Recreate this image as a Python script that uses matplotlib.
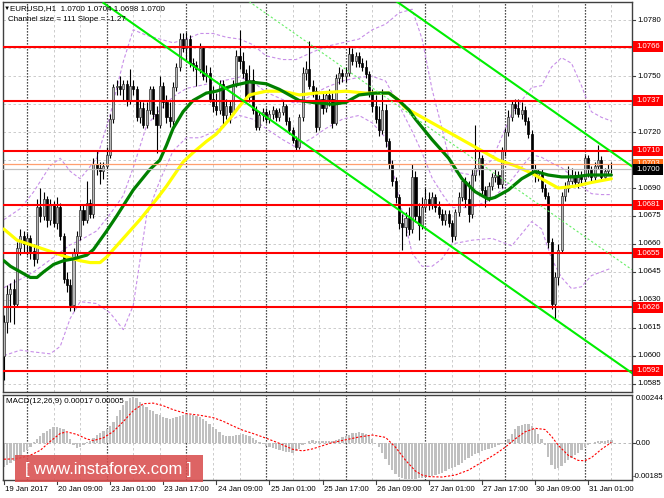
import matplotlib
matplotlib.use("Agg")
import matplotlib.pyplot as plt
from matplotlib.patches import Rectangle
import numpy as np

plt.rcParams['font.family'] = ['Liberation Sans', 'DejaVu Sans']

W, H = 664, 498

# ---------------- data (EURUSD H1, bars indexed from 19 Jan 17:00) ----------------
opens = [1.0600,1.0618,1.0633,1.0636,1.0628,1.0658,1.0664,1.0660,1.0663,1.0656,
         1.0652,1.0680,1.0675,1.0684,1.0673,1.0681,1.0671,1.0680,1.0664,1.0641,
         1.0638,1.0627,1.0655,1.0664,1.0678,1.0673,1.0682,1.0676,1.0703,1.0701,
         1.0699,1.0702,1.0708,1.0727,1.0744,1.0745,1.0743,1.0746,1.0737,1.0745,
         1.0743,1.0728,1.0733,1.0724,1.0732,1.0743,1.0730,1.0724,1.0745,1.0736,
         1.0728,1.0726,1.0744,1.0755,1.0770,1.0765,1.0770,1.0757,1.0756,1.0754,
         1.0765,1.0750,1.0752,1.0738,1.0734,1.0732,1.0746,1.0729,1.0734,1.0731,
         1.0746,1.0761,1.0758,1.0752,1.0739,1.0748,1.0732,1.0723,1.0729,1.0731,
         1.0727,1.0730,1.0732,1.0728,1.0731,1.0734,1.0726,1.0721,1.0716,1.0712,
         1.0728,1.0752,1.0754,1.0745,1.0742,1.0723,1.0738,1.0733,1.0740,1.0738,
         1.0725,1.0749,1.0752,1.0750,1.0752,1.0762,1.0758,1.0761,1.0757,1.0755,
         1.0751,1.0741,1.0734,1.0727,1.0721,1.0732,1.0715,1.0703,1.0694,1.0685,
         1.0671,1.0669,1.0674,1.0668,1.0696,1.0675,1.0670,1.0680,1.0684,1.0681,
         1.0685,1.0680,1.0676,1.0673,1.0676,1.0671,1.0664,1.0677,1.0685,1.0694,
         1.0684,1.0676,1.0697,1.0701,1.0706,1.0689,1.0685,1.0691,1.0696,1.0697,
         1.0692,1.0710,1.0720,1.0728,1.0735,1.0733,1.0730,1.0732,1.0726,1.0719,
         1.0700,1.0697,1.0698,1.0690,1.0686,1.0661,1.0628,1.0642,1.0657,1.0686,
         1.0690,1.0694,1.0697,1.0693,1.0697,1.0695,1.0706,1.0700,1.0696,1.0702,
         1.0705,1.0696,1.0699,1.0700]
highs = [1.0622,1.0638,1.0639,1.0641,1.0661,1.0668,1.0667,1.0666,1.0665,1.0660,
         1.0684,1.0690,1.0688,1.0686,1.0684,1.0683,1.0685,1.0682,1.0666,1.0645,
         1.0641,1.0658,1.0667,1.0681,1.0681,1.0694,1.0684,1.0706,1.0710,1.0704,
         1.0704,1.0712,1.0730,1.0746,1.0748,1.0750,1.0748,1.0748,1.0754,1.0748,
         1.0745,1.0737,1.0736,1.0736,1.0745,1.0745,1.0734,1.0750,1.0747,1.0740,
         1.0736,1.0747,1.0757,1.0773,1.0773,1.0774,1.0772,1.0760,1.0758,1.0768,
         1.0766,1.0756,1.0755,1.0745,1.0741,1.0748,1.0748,1.0738,1.0737,1.0748,
         1.0764,1.0775,1.0763,1.0754,1.0756,1.0754,1.0734,1.0731,1.0733,1.0733,
         1.0732,1.0734,1.0733,1.0733,1.0737,1.0735,1.0728,1.0723,1.0718,1.0730,
         1.0755,1.0758,1.0769,1.0748,1.0744,1.0740,1.0742,1.0742,1.0743,1.0741,
         1.0751,1.0755,1.0754,1.0755,1.0766,1.0765,1.0763,1.0763,1.0760,1.0759,
         1.0753,1.0743,1.0740,1.0734,1.0743,1.0735,1.0717,1.0705,1.0696,1.0687,
         1.0676,1.0677,1.0680,1.0703,1.0699,1.0682,1.0685,1.0690,1.0688,1.0688,
         1.0687,1.0683,1.0679,1.0678,1.0678,1.0673,1.0679,1.0688,1.0696,1.0696,
         1.0694,1.0700,1.0724,1.0710,1.0708,1.0691,1.0693,1.0698,1.0700,1.0699,
         1.0712,1.0722,1.0732,1.0737,1.0738,1.0738,1.0736,1.0734,1.0728,1.0721,
         1.0703,1.0700,1.0700,1.0692,1.0688,1.0663,1.0645,1.0660,1.0688,1.0693,
         1.0702,1.0701,1.0699,1.0699,1.0699,1.0708,1.0708,1.0702,1.0704,1.0713,
         1.0707,1.0701,1.0703,1.0704]
lows = [1.0587,1.0612,1.0618,1.0617,1.0626,1.0654,1.0655,1.0654,1.0652,1.0648,
        1.0650,1.0672,1.0673,1.0669,1.0670,1.0669,1.0668,1.0662,1.0639,1.0634,
        1.0624,1.0624,1.0652,1.0662,1.0670,1.0671,1.0674,1.0674,1.0697,1.0692,
        1.0695,1.0700,1.0706,1.0725,1.0740,1.0740,1.0737,1.0734,1.0735,1.0740,
        1.0726,1.0725,1.0722,1.0722,1.0730,1.0727,1.0709,1.0722,1.0733,1.0725,
        1.0723,1.0724,1.0742,1.0753,1.0763,1.0758,1.0755,1.0753,1.0745,1.0752,
        1.0748,1.0747,1.0736,1.0731,1.0729,1.0730,1.0723,1.0727,1.0725,1.0729,
        1.0744,1.0754,1.0749,1.0737,1.0736,1.0730,1.0721,1.0721,1.0726,1.0725,
        1.0725,1.0727,1.0726,1.0726,1.0729,1.0724,1.0719,1.0714,1.0710,1.0711,
        1.0726,1.0748,1.0743,1.0739,1.0720,1.0721,1.0730,1.0731,1.0734,1.0722,
        1.0724,1.0746,1.0747,1.0747,1.0750,1.0756,1.0755,1.0755,1.0753,1.0749,
        1.0739,1.0731,1.0725,1.0718,1.0719,1.0712,1.0700,1.0691,1.0682,1.0668,
        1.0657,1.0664,1.0665,1.0666,1.0672,1.0662,1.0668,1.0677,1.0678,1.0679,
        1.0677,1.0674,1.0670,1.0670,1.0669,1.0661,1.0662,1.0675,1.0683,1.0680,
        1.0672,1.0674,1.0694,1.0697,1.0687,1.0680,1.0683,1.0689,1.0693,1.0690,
        1.0690,1.0707,1.0718,1.0726,1.0730,1.0728,1.0727,1.0724,1.0717,1.0698,
        1.0693,1.0694,1.0688,1.0684,1.0658,1.0625,1.0619,1.0638,1.0655,1.0683,
        1.0688,1.0692,1.0691,1.0690,1.0692,1.0693,1.0696,1.0694,1.0694,1.0700,
        1.0694,1.0695,1.0697,1.0698]
closes = [1.0618,1.0633,1.0636,1.0628,1.0658,1.0664,1.0660,1.0663,1.0656,1.0652,
          1.0680,1.0675,1.0684,1.0673,1.0681,1.0671,1.0680,1.0664,1.0641,1.0638,
          1.0627,1.0655,1.0664,1.0678,1.0673,1.0682,1.0676,1.0703,1.0701,1.0699,
          1.0702,1.0708,1.0727,1.0744,1.0745,1.0743,1.0746,1.0737,1.0745,1.0743,
          1.0728,1.0733,1.0724,1.0732,1.0743,1.0730,1.0724,1.0745,1.0736,1.0728,
          1.0726,1.0744,1.0755,1.0770,1.0765,1.0770,1.0757,1.0756,1.0754,1.0765,
          1.0750,1.0752,1.0738,1.0734,1.0732,1.0746,1.0729,1.0734,1.0731,1.0746,
          1.0761,1.0758,1.0752,1.0739,1.0748,1.0732,1.0723,1.0729,1.0731,1.0727,
          1.0730,1.0732,1.0728,1.0731,1.0734,1.0726,1.0721,1.0716,1.0712,1.0728,
          1.0752,1.0754,1.0745,1.0742,1.0723,1.0738,1.0733,1.0740,1.0738,1.0725,
          1.0749,1.0752,1.0750,1.0752,1.0762,1.0758,1.0761,1.0757,1.0755,1.0751,
          1.0741,1.0734,1.0727,1.0721,1.0732,1.0715,1.0703,1.0694,1.0685,1.0671,
          1.0669,1.0674,1.0668,1.0696,1.0675,1.0670,1.0680,1.0684,1.0681,1.0685,
          1.0680,1.0676,1.0673,1.0676,1.0671,1.0664,1.0677,1.0685,1.0694,1.0684,
          1.0676,1.0697,1.0701,1.0706,1.0689,1.0685,1.0691,1.0696,1.0697,1.0692,
          1.0710,1.0720,1.0728,1.0735,1.0733,1.0730,1.0732,1.0726,1.0719,1.0700,
          1.0697,1.0698,1.0690,1.0686,1.0661,1.0628,1.0642,1.0657,1.0686,1.0690,
          1.0694,1.0697,1.0693,1.0697,1.0695,1.0706,1.0700,1.0696,1.0702,1.0705,
          1.0696,1.0699,1.0700,1.0700]

green_idx = [0,2,5,8,10,12,15,18,21,23,25,27,29,31,34,39,44,47,49,51,54,57,61,64,69,74,79,83,86,89,
             93,99,103,107,112,116,119,122,124,129,134,138,142,146,148,152,156,160,164,168,172,176,180,183]
green_val = [1.0651,1.0648,1.0645,1.0642,1.0642,1.0645,1.0649,1.0651,1.0652,1.0653,1.0654,1.0657,1.0662,1.0667,
             1.0675,1.0689,1.0700,1.0705,1.0713,1.0722,1.0731,1.0737,1.0741,1.0742,1.0745,1.0747,1.0746,1.0743,
             1.0740,1.0737,1.0736,1.0735,1.0736,1.0740,1.0741,1.0741,1.0737,1.0732,1.0727,1.0716,1.0706,1.0695,
             1.0688,1.0684,1.0685,1.0689,1.0695,1.0699,1.0697,1.0696,1.0696,1.0697,1.0697,1.0697]
yellow_idx = [0,4,9,14,19,23,26,29,31,35,41,46,49,54,57,61,64,68,71,74,79,84,89,94,103,109,116,119,121,125,
              131,137,143,149,154,159,164,167,172,177,183]
yellow_val = [1.0668,1.0662,1.0659,1.0656,1.0653,1.0651,1.0650,1.0650,1.0653,1.0661,1.0673,1.0684,1.0691,1.0704,
              1.0709,1.0715,1.0719,1.0727,1.0734,1.0740,1.0742,1.0742,1.0740,1.0741,1.0742,1.0741,1.0741,1.0737,
              1.0733,1.0729,1.0723,1.0717,1.0711,1.0705,1.0702,1.0698,1.0693,1.0690,1.0691,1.0693,1.0695]

bb_idx = [0,5,9,14,17,20,23,28,32,36,39,43,47,51,55,59,63,67,71,75,79,84,88,93,97,102,107,111,115,119,
          123,126,129,132,135,141,147,153,159,162,165,168,171,174,177,180,183]
bb_upper = [1.0673,1.0679,1.0688,1.0702,1.0706,1.0699,1.0695,1.0706,1.0729,1.0758,1.0775,1.0772,1.0770,1.0768,
            1.0770,1.0773,1.0773,1.0771,1.0770,1.0767,1.0761,1.0759,1.0759,1.0763,1.0766,1.0768,1.0770,1.0775,
            1.0778,1.0784,1.0786,1.0770,1.0743,1.0722,1.0699,1.0697,1.0705,1.0730,1.0744,1.0745,1.0755,1.0760,
            1.0757,1.0745,1.0731,1.0728,1.0726]
bb_lower = [1.0600,1.0603,1.0602,1.0601,1.0605,1.0620,1.0629,1.0628,1.0623,1.0614,1.0627,1.0675,1.0694,1.0710,
            1.0717,1.0717,1.0720,1.0725,1.0729,1.0727,1.0722,1.0716,1.0712,1.0717,1.0722,1.0727,1.0729,1.0725,
            1.0717,1.0685,1.0655,1.0648,1.0648,1.0652,1.0660,1.0662,1.0663,1.0659,1.0672,1.0668,1.0652,1.0642,
            1.0636,1.0637,1.0643,1.0645,1.0647]
bb_mid = [1.06365,1.0641,1.0645,1.06515,1.06555,1.06595,1.0662,1.0667,1.0676,1.0686,1.0701,1.07235,1.0732,1.0739,
          1.07435,1.0745,1.07465,1.0748,1.07495,1.0747,1.07415,1.07375,1.07355,1.0740,1.0744,1.07475,1.07495,1.0750,
          1.07475,1.07345,1.07205,1.0709,1.06955,1.0687,1.06795,1.06795,1.0684,1.06945,1.0708,1.07065,1.07035,1.0701,
          1.06965,1.0691,1.0687,1.06865,1.06865]

levels = [1.0766, 1.0737, 1.0710, 1.0681, 1.0655, 1.0626, 1.0592]
level_labels = ["1.0766", "1.0737", "1.0710", "1.0681", "1.0655", "1.0626", "1.0592"]
ask_price, ask_label = 1.0703, "1.0703"
bid_price, bid_label = 1.0700, "1.0700"

# tick positions; labels hidden in the reference under the level boxes are left empty
price_ticks = [1.0585, 1.0600, 1.0615, 1.0630, 1.0645, 1.0660, 1.0675, 1.0690,
               1.0705, 1.0720, 1.0735, 1.0750, 1.0765, 1.0780]
price_tick_labels = ["1.0585", "1.0600", "1.0615", "1.0630", "1.0645", "1.0660", "1.0675", "1.0690",
                     "", "1.0720", "1.0735", "1.0750", "", "1.0780"]

time_idx = [0, 16, 32, 48, 64, 80, 96, 112, 128, 144, 160, 176]
time_labels = ["19 Jan 2017", "20 Jan 09:00", "23 Jan 01:00", "23 Jan 17:00", "24 Jan 09:00",
               "25 Jan 01:00", "25 Jan 17:00", "26 Jan 09:00", "27 Jan 01:00", "27 Jan 17:00",
               "30 Jan 09:00", "31 Jan 01:00"]
day_sep_idx = [7, 31, 55, 79, 103, 127, 151, 175]

chan_idx = [30.0, 189.2]
chan_lower = [1.07894, 1.05907]
channel_size = 0.0111

# MACD histogram, in units of 1e-5
macd_hist = [-120,-110,-100,-90,-76,-62,-46,-32,-18,6,22,38,52,62,72,80,80,76,70,52,
             20,-10,-22,-20,-8,6,14,26,40,50,60,72,88,110,140,170,195,215,228,232,
             228,210,194,182,170,162,150,142,135,128,125,128,132,140,145,146,145,143,140,132,
             125,115,100,85,70,55,40,35,35,36,40,44,45,42,36,28,18,8,-4,-12,
             -20,-26,-30,-34,-38,-42,-46,-50,-40,-28,-10,4,14,18,14,12,10,12,10,12,
             18,24,30,36,44,50,54,55,53,46,36,20,2,-20,-50,-80,-110,-135,-155,-168,
             -176,-180,-182,-180,-178,-176,-175,-172,-168,-165,-160,-155,-148,-140,-132,-125,-118,-110,-98,-86,
             -76,-66,-56,-48,-40,-34,-28,-22,-16,-10,-4,4,24,48,70,86,94,98,96,88,
             70,48,22,-10,-70,-110,-128,-126,-115,-100,-86,-72,-60,-48,-34,-20,-6,4,8,10,
             12,14,16,17]
signal_idx = [0,4,8,11,14,17,19,22,25,27,30,33,36,39,42,45,48,51,55,59,63,66,69,72,75,79,83,87,90,93,
              96,99,103,107,111,115,118,121,124,126,128,132,136,140,144,148,151,154,157,160,163,165,167,170,
              173,175,177,180,183]
signal_val = [-80,-78,-60,-35,10,50,58,45,22,14,28,60,110,165,200,203,190,170,150,142,130,112,88,66,50,26,0,
              -30,-38,-28,-12,4,18,32,42,30,-20,-85,-140,-160,-168,-170,-160,-135,-95,-55,-20,22,58,76,70,35,
              -10,-60,-86,-88,-72,-30,5]

# ---------------- figure ----------------
fig = plt.figure(figsize=(W / 100, H / 100), dpi=100)
fig.patch.set_facecolor('white')


def frect(x0, y0, x1, y1):
    return [x0 / W, 1 - y1 / H, (x1 - x0) / W, (y1 - y0) / H]


ax = fig.add_axes(frect(3, 2, 632, 392))
mx = fig.add_axes(frect(3, 395, 632, 480))
XL = (-0.24, 189.22)
for a in (ax, mx):
    a.set_xlim(*XL)
    a.set_facecolor('white')
    for s in a.spines.values():
        s.set_color('#404040')
        s.set_linewidth(1.0)
ax.set_ylim(1.05805, 1.07899)
mx.set_ylim(-0.00185, 0.00244)

# grid and period separators
grid_idx = list(range(7, 190, 8))
for a in (ax, mx):
    for g in grid_idx:
        if g not in day_sep_idx:
            a.axvline(g, color='#c4c4c4', lw=0.6, ls=(0, (3, 3)), zorder=0.5)
    for d in day_sep_idx:
        a.axvline(d, color='#111111', lw=0.9, ls=(0, (1, 1.4)), zorder=0.6)
for p in price_ticks:
    ax.axhline(p, color='#c4c4c4', lw=0.6, ls=(0, (3, 3)), zorder=0.5)
mx.axhline(0, color='#b0b0b0', lw=0.6, ls=(0, (3, 3)), zorder=0.5)

# Bollinger bands
for arr in (bb_upper, bb_mid, bb_lower):
    ax.plot(bb_idx, arr, color='#c78ee8', lw=0.8, ls=(0, (3, 2)), zorder=2)

# candles
idx = np.arange(len(closes))
o = np.array(opens); hi = np.array(highs); lo = np.array(lows); c = np.array(closes)
ax.vlines(idx, lo, hi, color='#000000', lw=0.8, zorder=3)
bull = c >= o
bot = np.minimum(o, c)
hgt = np.maximum(np.abs(c - o), 0.00003)
ax.bar(idx[bull], hgt[bull], bottom=bot[bull], width=0.62, color='#b8b8b8',
       edgecolor='#333333', linewidth=0.5, zorder=3.2)
ax.bar(idx[~bull], hgt[~bull], bottom=bot[~bull], width=0.62, color='#000000',
       edgecolor='#000000', linewidth=0.5, zorder=3.2)

# moving averages
ax.plot(yellow_idx, yellow_val, color='#ffff00', lw=2.3, zorder=4, solid_capstyle='round')
ax.plot(green_idx, green_val, color='#008000', lw=2.3, zorder=4.1, solid_capstyle='round')

# horizontal levels
for lv in levels:
    ax.axhline(lv, color='#ff0000', lw=1.5, zorder=5)
ax.axhline(ask_price, color='#ff9f6f', lw=0.9, zorder=4.9)
ax.axhline(bid_price, color='#c0c0c0', lw=0.9, zorder=4.9)

# regression channel
cx = np.array(chan_idx); cl = np.array(chan_lower)
ax.plot(cx, cl, color='#00ee00', lw=1.5, zorder=5.2)
ax.plot(cx, cl + channel_size, color='#00ee00', lw=1.5, zorder=5.2)
ax.plot(cx, cl + channel_size / 2, color='#66ee66', lw=0.8, ls=(0, (2, 2)), zorder=5.1)

# price axis on right
ax.set_xticks([]); mx.set_xticks([])
ax.set_yticks([]); mx.set_yticks([])
ytr = ax.get_yaxis_transform()
axw = 629.0
FS = 5.6
for p, lab in zip(price_ticks, price_tick_labels):
    ax.plot([1.0, 1.0 + 3 / axw], [p, p], transform=ytr, color='#404040', lw=0.8, clip_on=False, zorder=6)
    if lab:
        ax.text(1.0 + 5 / axw, p, lab, transform=ytr, fontsize=FS, ha='left', va='center',
                color='#000000', clip_on=False, zorder=6)
box_h = 10.5 / 18621


def price_box(p, lab, fc, z):
    ax.add_patch(Rectangle((1.0 + 1 / axw, p - box_h / 2), 30 / axw, box_h, transform=ytr,
                           facecolor=fc, edgecolor='none', clip_on=False, zorder=z))
    ax.text(1.0 + 4 / axw, p, lab, transform=ytr, fontsize=FS, ha='left', va='center',
            color='white', clip_on=False, zorder=z + 0.1)


for lv, lab in zip(levels, level_labels):
    price_box(lv, lab, '#ff0000', 7)
price_box(ask_price, ask_label, '#ff6a10', 7.5)
price_box(bid_price, bid_label, '#000000', 8)

# MACD panel
mh = np.array(macd_hist) * 1e-5
mx.bar(idx, mh, width=0.7, color='#c0c0c0', zorder=2)
mx.plot(signal_idx, np.array(signal_val) * 1e-5, color='#ff0000', lw=0.8, ls=(0, (2, 1.5)), zorder=3)
mtr = mx.get_yaxis_transform()
mx.text(1.0 + 4 / axw, 0.00244, "0.00244", transform=mtr, fontsize=FS, ha='left', va='top', clip_on=False)
mx.text(1.0 + 4 / axw, 0.0, "0.00", transform=mtr, fontsize=FS, ha='left', va='center', clip_on=False)
mx.text(1.0 + 0.5 / axw, -0.00185, "-0.00185", transform=mtr, fontsize=FS, ha='left', va='bottom',
        clip_on=False)
mx.plot([1.0, 1.0 + 3 / axw], [0, 0], transform=mtr, color='#404040', lw=0.8, clip_on=False)

# time axis
xtr = mx.get_xaxis_transform()
for t, lab in zip(time_idx, time_labels):
    mx.plot([t, t], [0, -4 / 85], transform=xtr, color='#404040', lw=0.8, clip_on=False)
    mx.text(t + 0.4, -9 / 85, lab, transform=xtr, fontsize=FS, ha='left', va='center', clip_on=False)

# header texts
fig.text(3.5 / W, 1 - 8.5 / H, "\u25bc", fontsize=4.5, ha='left', va='center', color='#000000')
fig.text(10 / W, 1 - 8.5 / H, "EURUSD,H1  1.0700 1.0704 1.0698 1.0700", fontsize=5.8,
         ha='left', va='center', color='#000000')
fig.text(8 / W, 1 - 19.5 / H, "Channel size = 111 Slope = -1.27", fontsize=5.8,
         ha='left', va='center', color='#000000')
fig.text(6 / W, 1 - 401 / H, "MACD(12,26,9) 0.00017 0.00005", fontsize=5.8,
         ha='left', va='center', color='#000000')

# watermark
fig.patches.append(Rectangle((15 / W, 1 - 482 / H), 188 / W, 27 / H, transform=fig.transFigure,
                             facecolor='#d94f4f', alpha=0.88, edgecolor='none', zorder=20))
fig.text(108 / W, 1 - 469 / H, "[ www.instaforex.com ]", fontsize=12, color='white',
         ha='center', va='center', zorder=21)

fig.savefig('out.png', dpi=100, facecolor='white')
